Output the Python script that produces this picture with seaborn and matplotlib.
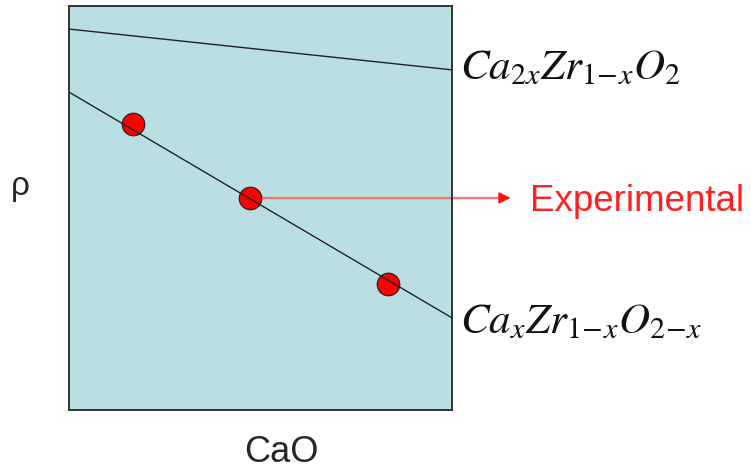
import numpy as np
import pandas as pd
import matplotlib
matplotlib.use("Agg")
import matplotlib.pyplot as plt
import seaborn as sns

# Schematic density vs CaO content for two defect models
x_ends = [0.0, 1.0]
rho_cation_interstitial = [0.943, 0.842]   # Ca_{2x} Zr_{1-x} O_2
rho_oxygen_vacancy = [0.787, 0.228]        # Ca_x Zr_{1-x} O_{2-x}
exp_x = [0.167, 0.473, 0.833]
exp_rho = [0.708, 0.525, 0.312]

label_top = r"$Ca_{2x}Zr_{1\!-\!x}O_2$"
label_bottom = r"$Ca_{x}Zr_{1\!-\!x}O_{2\!-\!x}$"
label_exp = "Experimental"
xlabel = "CaO"
ylabel = "ρ"

sns.set_theme(style="white")
plt.rcParams["font.family"] = ["Liberation Sans", "DejaVu Sans"]
plt.rcParams["mathtext.fontset"] = "stix"

fig = plt.figure(figsize=(7.51, 4.71), dpi=100)
ax = fig.add_axes([0.0919, 0.1295, 0.510, 0.8577])
ax.set_facecolor("#badfe2")

lines = pd.DataFrame({
    "x": x_ends * 2,
    "rho": rho_cation_interstitial + rho_oxygen_vacancy,
    "model": ["top"] * 2 + ["bottom"] * 2,
})
pts = pd.DataFrame({"x": exp_x, "rho": exp_rho})

sns.scatterplot(data=pts, x="x", y="rho", ax=ax, s=260, color="#ff0000",
                edgecolor="#402020", linewidth=1.0, zorder=3, legend=False)
sns.lineplot(data=lines, x="x", y="rho", units="model", estimator=None,
             color="#222222", linewidth=1.0, ax=ax, zorder=4, legend=False)

ax.set_xlim(0, 1)
ax.set_ylim(0, 1)
ax.set_xticks([])
ax.set_yticks([])
ax.set_xlabel("")
ax.set_ylabel("")
for sp in ax.spines.values():
    sp.set_color("#333333")
    sp.set_linewidth(1.4)

# Arrow from the middle measurement to the label
trans = ax.transData
arrow_end_x = 1.16
ax.plot([exp_x[1], arrow_end_x - 0.03], [exp_rho[1], exp_rho[1]], color="#ff7070",
        linewidth=1.6, clip_on=False, zorder=2)
ax.annotate("", xy=(arrow_end_x, exp_rho[1]), xytext=(arrow_end_x - 0.04, exp_rho[1]),
            arrowprops=dict(arrowstyle="-|>,head_length=0.6,head_width=0.3",
                            color="#ff1010", lw=1.0),
            annotation_clip=False)
ax.text(1.203, exp_rho[1] - 0.01, label_exp, color="#ff2020", fontsize=26.5,
        va="center", ha="left", transform=trans, clip_on=False)

ax.text(1.02, rho_cation_interstitial[1] + 0.005, label_top, fontsize=31, color="#111111",
        va="center", ha="left", transform=trans, clip_on=False)
ax.text(1.02, rho_oxygen_vacancy[1] - 0.01, label_bottom, fontsize=31, color="#111111",
        va="center", ha="left", transform=trans, clip_on=False)

fig.text(20 / 751, 1 - 186 / 471, ylabel, fontsize=24, ha="center", va="center")
fig.text(281 / 751, 1 - 452 / 471, xlabel, fontsize=26, ha="center", va="center")

fig.savefig("out.png", dpi=100, facecolor="white")
